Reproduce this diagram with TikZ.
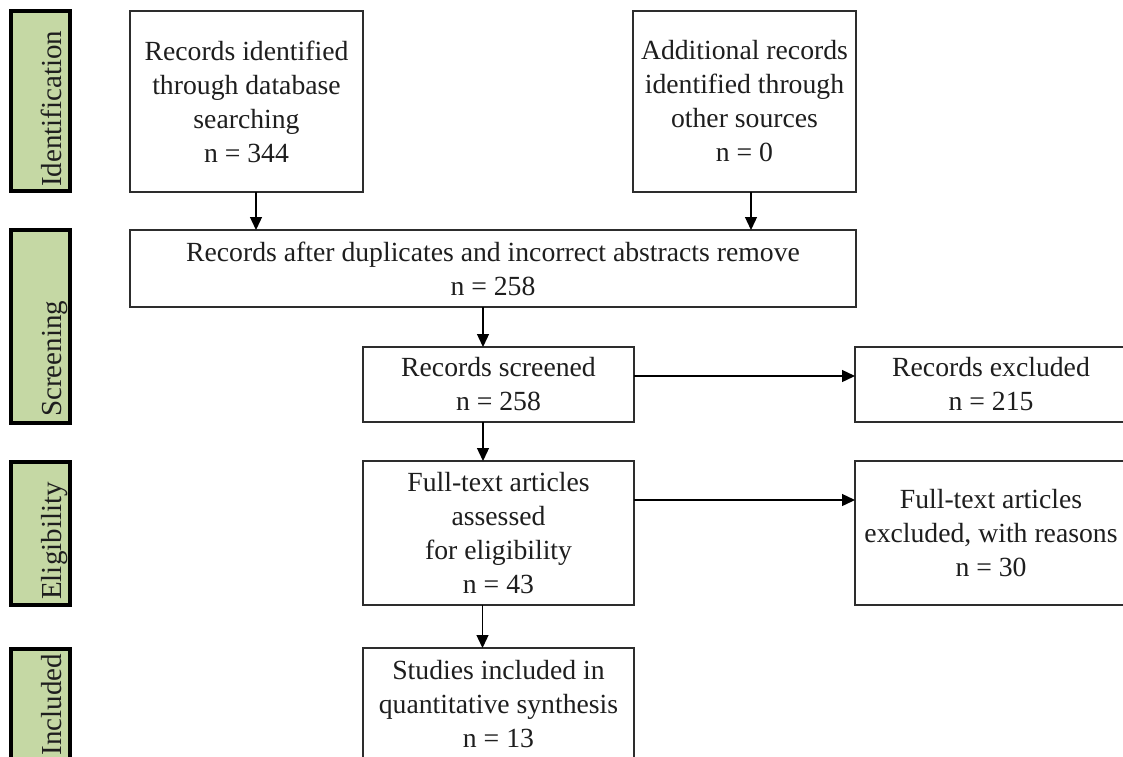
\documentclass[tikz,border=0pt]{standalone}
\usepackage{fontspec}
\setmainfont{Liberation Serif}
\usetikzlibrary{arrows.meta}
\definecolor{phasegreen}{RGB}{197,216,164}
\definecolor{boxline}{RGB}{45,45,45}
\definecolor{txt}{RGB}{30,30,30}
\tikzset{
  flowbox/.style={draw=boxline, line width=1.8pt, fill=white, inner sep=0pt, outer sep=0pt,
    anchor=north west, align=center, text=txt, font=\fontsize{27.7}{34}\selectfont},
  phasebox/.style={draw=black, line width=4pt, fill=phasegreen, inner sep=0pt, outer sep=0pt, anchor=north west},
  phaselabel/.style={rotate=90, anchor=base west, inner sep=0pt, text=txt, font=\fontsize{29}{32}\selectfont},
  arr/.style={draw=black, line width=1.3pt, -{Triangle[length=13pt,width=12pt]}}
}
\begin{document}
\begin{tikzpicture}
\useasboundingbox (0pt,0pt) rectangle (1123pt,-756pt);
% phase boxes
\node[phasebox, minimum width=59pt, minimum height=180pt] (pI) at (11pt,-11pt) {};
\node[phasebox, minimum width=59pt, minimum height=193pt] (pS) at (11pt,-230pt) {};
\node[phasebox, minimum width=59pt, minimum height=143pt] (pE) at (11pt,-462pt) {};
\node[phasebox, minimum width=59pt, minimum height=125pt] (pN) at (11pt,-649pt) {};
\node[phaselabel] (lI) at ([xshift=21pt,yshift=4pt]pI.south) {Identification};
\node[phaselabel] (lS) at ([xshift=21pt,yshift=6pt]pS.south) {Screening};
\node[phaselabel] (lE) at ([xshift=21pt,yshift=5pt]pE.south) {Eligibility};
\node[phaselabel, anchor=base east] (lN) at ([xshift=21pt,yshift=-4.5pt]pN.north) {Included};
% flow boxes
\node[flowbox, minimum width=233pt, minimum height=181pt] (A) at (130pt,-11pt)
  {Records identified\\through database\\searching\\n = 344};
\node[flowbox, minimum width=223pt, minimum height=181pt] (B) at (633pt,-11pt)
  {Additional records\\identified through\\other sources\\n = 0};
\node[flowbox, minimum width=726pt, minimum height=77pt] (M) at (130pt,-230pt)
  {Records after duplicates and incorrect abstracts remove\\n = 258};
\node[flowbox, minimum width=271pt, minimum height=75pt] (S) at (363pt,-347pt)
  {Records screened\\n = 258};
\node[flowbox, minimum width=272pt, minimum height=75pt] (X1) at (855pt,-347pt)
  {Records excluded\\n = 215};
\node[flowbox, minimum width=271pt, minimum height=144pt] (F) at (363pt,-461pt)
  {Full-text articles\\assessed\\for eligibility\\n = 43};
\node[flowbox, minimum width=272pt, minimum height=144pt] (X2) at (855pt,-461pt)
  {Full-text articles\\excluded, with reasons\\n = 30};
\node[flowbox, minimum width=271pt, minimum height=112pt] (I) at (363pt,-648pt)
  {Studies included in\\quantitative synthesis\\n = 13};
% connectors
\draw[arr] ([xshift=9.5pt]A.south) -- ([xshift=9.5pt]A.south |- M.north);
\draw[arr] ([xshift=6.5pt]B.south) -- ([xshift=6.5pt]B.south |- M.north);
\draw[arr] ([xshift=-15.5pt]S.north |- M.south) -- ([xshift=-15.5pt]S.north);
\draw[arr] ([xshift=-15.5pt]S.south) -- ([xshift=-15.5pt]S.south |- F.north);
\draw[arr] ([xshift=-16pt]F.south) -- ([xshift=-16pt]F.south |- I.north);
\draw[arr] ([yshift=8.5pt]S.east) -- ([yshift=8.5pt]S.east -| X1.west);
\draw[arr] ([yshift=33pt]F.east) -- ([yshift=33pt]F.east -| X2.west);
\end{tikzpicture}
\end{document}
